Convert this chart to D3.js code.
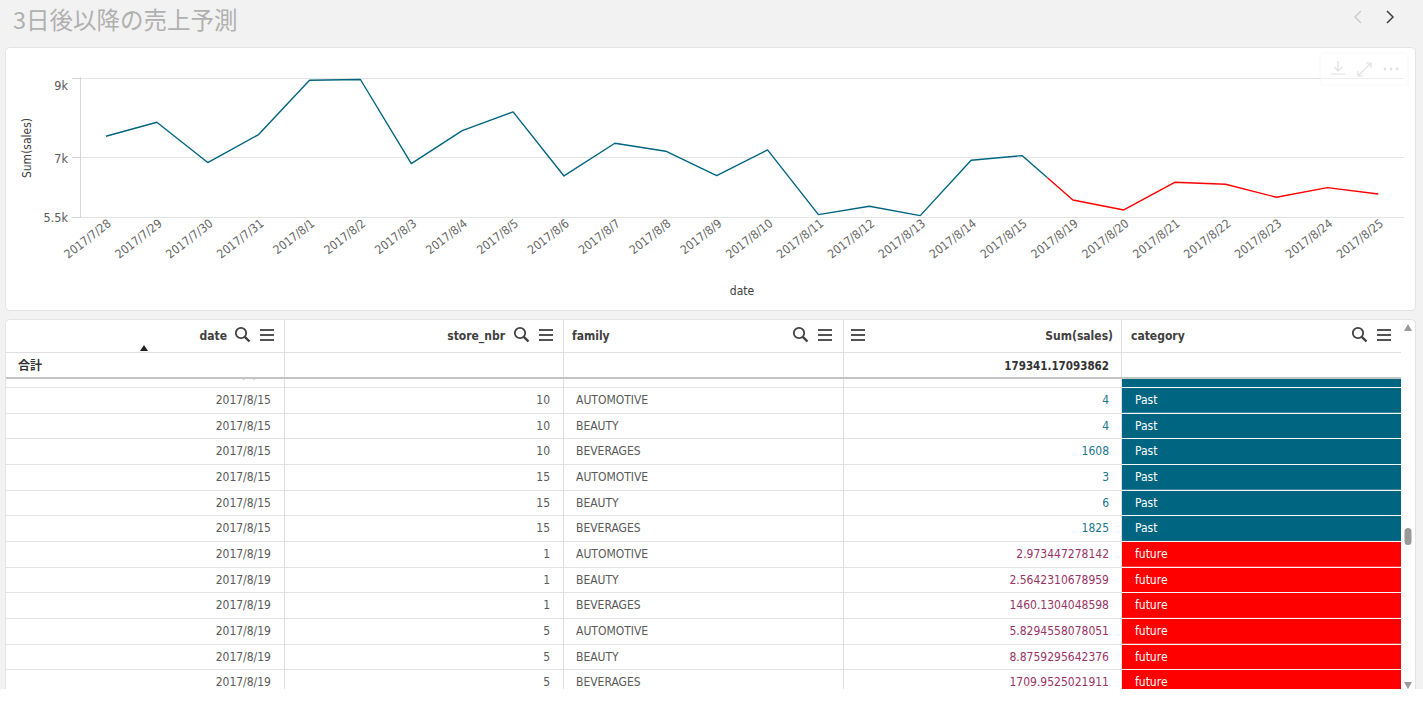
<!DOCTYPE html>
<html><head><meta charset="utf-8">
<script src="https://cdn.jsdelivr.net/npm/d3@7"></script>
<style>
html,body{margin:0;padding:0;background:#f2f2f2;}
svg{display:block;}
text{font-family:"Liberation Sans Narrow","DejaVu Sans Condensed",Roboto,sans-serif;}
</style></head>
<body>
<svg id="c" width="1423" height="702"></svg>
<script>
// ---------- data ----------
const title = "3日後以降の売上予測";
const dates = ["2017/7/28","2017/7/29","2017/7/30","2017/7/31","2017/8/1","2017/8/2","2017/8/3","2017/8/4","2017/8/5","2017/8/6","2017/8/7","2017/8/8","2017/8/9","2017/8/10","2017/8/11","2017/8/12","2017/8/13","2017/8/14","2017/8/15","2017/8/19","2017/8/20","2017/8/21","2017/8/22","2017/8/23","2017/8/24","2017/8/25"];
const sales = [7526,7878,6866,7569,8932,8950,6841,7669,8136,6530,7350,7150,6540,7183,5560,5769,5535,6924,7041,5927,5676,6371,6321,5995,6238,6078];
const category = ["Past","Past","Past","Past","Past","Past","Past","Past","Past","Past","Past","Past","Past","Past","Past","Past","Past","Past","Past","future","future","future","future","future","future","future"];
const yTicks = [5500,7000,9000];
const yTickLabels = ["5.5k","7k","9k"];

const columns = ["date","store_nbr","family","Sum(sales)","category"];
const totalLabel = "合計";
const totalSales = "179341.17093862";
const rowDate   = ["2017/8/15","2017/8/15","2017/8/15","2017/8/15","2017/8/15","2017/8/15","2017/8/15","2017/8/19","2017/8/19","2017/8/19","2017/8/19","2017/8/19","2017/8/19"];
const rowStore  = ["5","10","10","10","15","15","15","1","1","1","5","5","5"];
const rowFamily = ["BEVERAGES","AUTOMOTIVE","BEAUTY","BEVERAGES","AUTOMOTIVE","BEAUTY","BEVERAGES","AUTOMOTIVE","BEAUTY","BEVERAGES","AUTOMOTIVE","BEAUTY","BEVERAGES"];
const rowSales  = ["","4","4","1608","3","6","1825","2.973447278142","2.5642310678959","1460.1304048598","5.8294558078051","8.8759295642376","1709.9525021911"];
const rowCat    = ["Past","Past","Past","Past","Past","Past","Past","future","future","future","future","future","future"];

const catColor = {Past:"#006580", future:"#ff0000"};
const valColor = {Past:"#1d7690", future:"#993366"};

// ---------- page ----------
const svg = d3.select("#c");
svg.append("text").attr("x",13).attr("y",28.5).attr("fill","#b0b0b0")
  .style("font-family","'Noto Sans CJK JP',sans-serif").style("font-size","23.5px").text(title);
// nav arrows
svg.append("path").attr("d","M1361,11 L1355,17 L1361,23").attr("fill","none").attr("stroke","#c8c8c8").attr("stroke-width",1.3);
svg.append("path").attr("d","M1387,11 L1393,17 L1387,23").attr("fill","none").attr("stroke","#404040").attr("stroke-width",1.5);

// cards
svg.append("rect").attr("x",5.5).attr("y",47.5).attr("width",1410).attr("height",263).attr("rx",4)
  .attr("fill","#fff").attr("stroke","#e3e3e3");
svg.append("rect").attr("x",5.5).attr("y",319.5).attr("width",1410).attr("height",400).attr("rx",4)
  .attr("fill","#fff").attr("stroke","#e3e3e3");

// ---------- line chart ----------
const x = d3.scaleBand().domain(dates).range([80.5,1403.7]).padding(0);
const y = d3.scaleLinear().domain([5500,9000]).range([217,77.5]);
const g = svg.append("g");
// grid
g.selectAll("line.grid").data(yTicks).join("line")
  .attr("x1",80).attr("x2",1404).attr("y1",d=>Math.round(y(d))+0.5).attr("y2",d=>Math.round(y(d))+0.5)
  .attr("stroke","#e4e4e4");
g.append("line").attr("x1",80.5).attr("x2",80.5).attr("y1",77).attr("y2",217.5).attr("stroke","#d6d6d6");
// y ticks
g.selectAll("line.tk").data(yTicks).join("line")
  .attr("x1",72).attr("x2",80).attr("y1",d=>Math.round(y(d))+0.5).attr("y2",d=>Math.round(y(d))+0.5).attr("stroke","#d6d6d6");
g.selectAll("text.yl").data(yTicks).join("text")
  .attr("x",68).attr("y",(d,i)=>y(d)+(d===9000?8:1)).attr("dy","0.35em").attr("text-anchor","end")
  .attr("fill","#595959").style("font-size","12.5px").text((d,i)=>yTickLabels[i]);
// y title
svg.append("text").attr("transform","translate(31,148) rotate(-90)").attr("text-anchor","middle")
  .attr("fill","#404040").style("font-size","12px").text("Sum(sales)");
// x labels
g.selectAll("text.xl").data(dates).join("text")
  .attr("transform",d=>`translate(${x(d)+x.bandwidth()/2+6},${225}) rotate(-38)`)
  .attr("text-anchor","end").attr("fill","#666").style("font-size","12px").text(d=>d);
svg.append("text").attr("x",742).attr("y",295).attr("text-anchor","middle").attr("fill","#404040")
  .style("font-size","12px").text("date");
// line split
const pts = dates.map((d,i)=>[x(d)+x.bandwidth()/2, y(sales[i]), category[i]]);
const lastPast = category.lastIndexOf("Past");
const a = pts[lastPast], b = pts[lastPast+1];
const mid = [(a[0]+b[0])/2,(a[1]+b[1])/2];
const line = d3.line();
g.append("path").attr("d",line(pts.slice(0,lastPast+1).map(p=>[p[0],p[1]]).concat([mid])))
  .attr("fill","none").attr("stroke",catColor.Past).attr("stroke-width",1.4).attr("stroke-linejoin","round");
g.append("path").attr("d",line([mid].concat(pts.slice(lastPast+1).map(p=>[p[0],p[1]]))))
  .attr("fill","none").attr("stroke",catColor.future).attr("stroke-width",1.4).attr("stroke-linejoin","round");

// chart toolbar (faint)
const tb = svg.append("g").attr("opacity",0.35);
tb.append("rect").attr("x",1320).attr("y",53).attr("width",88).attr("height",32).attr("rx",3).attr("fill","#fff").attr("stroke","#eee");
tb.append("path").attr("d","M1338,61 v10 M1334,67 l4,4 l4,-4 M1331,74 h14").attr("fill","none").attr("stroke","#aaa").attr("stroke-width",1.2);
tb.append("path").attr("d","M1358,76 l13,-13 M1366,63 h5 v5 M1358,71 v5 h5").attr("fill","none").attr("stroke","#aaa").attr("stroke-width",1.2);
[1385,1391,1397].forEach(cx=>tb.append("circle").attr("cx",cx).attr("cy",69).attr("r",1.4).attr("fill","#aaa"));

// ---------- table ----------
const colEdges = [6,284,563,843,1121,1401];
const t = svg.append("g");
t.selectAll("line.cs").data(colEdges.slice(1,5)).join("line")
  .attr("x1",d=>d+0.5).attr("x2",d=>d+0.5).attr("y1",320).attr("y2",689).attr("stroke","#e0e0e0");
t.append("line").attr("x1",6).attr("x2",1401).attr("y1",352.5).attr("y2",352.5).attr("stroke","#e0e0e0");

const hdrY = 336;
const searchIcon = (gx,cx,cy)=>{
  gx.append("circle").attr("cx",cx-2).attr("cy",cy-2).attr("r",5.2).attr("fill","none").attr("stroke","#404040").attr("stroke-width",1.8);
  gx.append("line").attr("x1",cx+1.8).attr("y1",cy+1.8).attr("x2",cx+6.5).attr("y2",cy+6.5).attr("stroke","#404040").attr("stroke-width",2.4);
};
const menuIcon = (gx,cx,cy)=>{
  [-5,0,5].forEach(o=>gx.append("line").attr("x1",cx-7).attr("x2",cx+7).attr("y1",cy+o).attr("y2",cy+o).attr("stroke","#404040").attr("stroke-width",1.8));
};
const hdrStyle = s=>s.attr("fill","#404040").style("font-size","12px").style("font-weight","bold");
hdrStyle(t.append("text").attr("x",227).attr("y",hdrY).attr("dy","0.35em").attr("text-anchor","end").text(columns[0]));
searchIcon(t,243,335); menuIcon(t,267,335);
t.append("path").attr("d","M140,351 L144,345 L148,351 Z").attr("fill","#222");
hdrStyle(t.append("text").attr("x",505).attr("y",hdrY).attr("dy","0.35em").attr("text-anchor","end").text(columns[1]));
searchIcon(t,522,335); menuIcon(t,546,335);
hdrStyle(t.append("text").attr("x",572).attr("y",hdrY).attr("dy","0.35em").text(columns[2]));
searchIcon(t,801,335); menuIcon(t,825,335);
menuIcon(t,858,335);
hdrStyle(t.append("text").attr("x",1113).attr("y",hdrY).attr("dy","0.35em").attr("text-anchor","end").text(columns[3]));
hdrStyle(t.append("text").attr("x",1131).attr("y",hdrY).attr("dy","0.35em").text(columns[4]));
searchIcon(t,1360,335); menuIcon(t,1384,335);

// totals row
t.append("text").attr("x",18).attr("y",366).attr("dy","0.35em").attr("fill","#333").style("font-size","12px")
  .style("font-weight","bold").style("font-family","'Noto Sans CJK JP',sans-serif").text(totalLabel);
t.append("text").attr("x",1109).attr("y",366).attr("dy","0.35em").attr("text-anchor","end").attr("fill","#333")
  .style("font-size","11.5px").style("font-weight","bold").text(totalSales);

// body rows
svg.append("clipPath").attr("id","body").append("rect").attr("x",6).attr("y",379).attr("width",1395).attr("height",310);
const rowsIdx = d3.range(rowDate.length);
const ry = d3.scaleBand().domain(rowsIdx).range([361.4, 361.4+25.65*rowDate.length]);
const body = t.append("g").attr("clip-path","url(#body)");
body.selectAll("rect.cat").data(rowsIdx).join("rect")
  .attr("x",1122).attr("width",279).attr("y",i=>ry(i)).attr("height",ry.bandwidth())
  .attr("fill",i=>catColor[rowCat[i]]);
body.selectAll("line.rl").data(rowsIdx).join("line")
  .attr("x1",6).attr("x2",1401).attr("y1",i=>Math.round(ry(i)+ry.bandwidth())+0.5).attr("y2",i=>Math.round(ry(i)+ry.bandwidth())+0.5)
  .attr("stroke","#e3e3e3");
body.selectAll("line.rw").data(rowsIdx).join("line")
  .attr("x1",1122).attr("x2",1401).attr("y1",i=>Math.round(ry(i)+ry.bandwidth())+0.5).attr("y2",i=>Math.round(ry(i)+ry.bandwidth())+0.5)
  .attr("stroke","rgba(255,255,255,0.7)");
const cy = i=>ry(i)+ry.bandwidth()/2;
const cellTxt = (arr,xx,anchor,fill)=>body.selectAll(null).data(rowsIdx).join("text")
  .attr("x",xx).attr("y",cy).attr("dy","0.35em").attr("text-anchor",anchor)
  .attr("fill",fill).style("font-size","12px").text(i=>arr[i]);
cellTxt(rowDate,271,"end","#595959");
cellTxt(rowStore,550,"end","#595959");
cellTxt(rowFamily,576,"start","#595959");
cellTxt(rowSales,1109,"end",i=>valColor[rowCat[i]]);
cellTxt(rowCat,1135,"start","#fff");
t.append("rect").attr("x",6).attr("y",377).attr("width",1395).attr("height",2).attr("fill","#c4c4c4");
svg.append("rect").attr("x",0).attr("y",689).attr("width",1423).attr("height",13).attr("fill","#fff");
// scrollbar
t.append("path").attr("d","M1404,331 L1408,324 L1412,331 Z").attr("fill","#9a9a9a");
t.append("path").attr("d","M1404,682 L1408,689 L1412,682 Z").attr("fill","#9a9a9a");
t.append("rect").attr("x",1404.5).attr("y",528).attr("width",7).attr("height",17).attr("rx",3.5).attr("fill","#999");
</script>
</body></html>
